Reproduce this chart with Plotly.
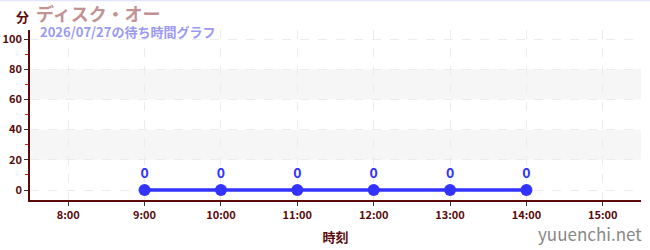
import plotly.graph_objects as go

hours = [9, 10, 11, 12, 13, 14]
waits = [0, 0, 0, 0, 0, 0]
tick_hours = [8, 9, 10, 11, 12, 13, 14, 15]
tick_labels = ["8:00", "9:00", "10:00", "11:00", "12:00", "13:00", "14:00", "15:00"]
y_ticks = [0, 20, 40, 60, 80, 100]
bands = [(20, 40), (60, 80)]
title = "ディスク・オー"
subtitle = "2026/07/27の待ち時間グラフ"

FONT = "Noto Sans CJK JP"
DARK = "#5a0a0a"

fig = go.Figure()
fig.add_trace(go.Scatter(
    x=hours, y=waits, mode="lines+markers+text",
    text=[str(v) for v in waits], textposition="top center",
    textfont=dict(family=FONT, size=14, color="#3333ff", weight="bold"),
    line=dict(color="#3333ff", width=3.5),
    marker=dict(color="#3333ff", size=12),
    cliponaxis=False, showlegend=False,
))

for lo, hi in bands:
    fig.add_shape(type="rect", xref="paper", x0=0, x1=1, yref="y", y0=lo, y1=hi,
                  fillcolor="#f6f6f6", line=dict(width=0), layer="below")

fig.add_shape(type="line", xref="paper", x0=-0.1, x1=1.1, yref="paper",
              y0=1 + 29.5 / 170, y1=1 + 29.5 / 170, line=dict(color="#e4e4ff", width=1.5))

fig.update_layout(
    width=650, height=250,
    margin=dict(l=30, r=9, t=30, b=50),
    paper_bgcolor="white", plot_bgcolor="white",
    font=dict(family=FONT, color=DARK),
    xaxis=dict(
        range=[7.5, 15.5], tickvals=tick_hours, ticktext=tick_labels,
        automargin=False,
        showgrid=True, gridcolor="#ececec", griddash="dash", gridwidth=1,
        showline=True, linecolor=DARK, linewidth=1.5,
        ticks="outside", ticklen=4, tickcolor="#333",
        tickfont=dict(family=FONT, size=11, color=DARK, weight="bold"),
        zeroline=False,
        title=dict(text="時刻", font=dict(family=FONT, size=13, color=DARK, weight="bold"), standoff=12),
    ),
    yaxis=dict(
        range=[-6.6, 106], tickvals=y_ticks,
        automargin=False,
        showgrid=True, gridcolor="#ececec", griddash="dash", gridwidth=1,
        showline=True, linecolor=DARK, linewidth=1.5,
        ticks="outside", ticklen=4, tickcolor="#333",
        tickfont=dict(family=FONT, size=11, color=DARK, weight="bold"),
        zeroline=False,
        minor=dict(tickvals=[10, 30, 50, 70, 90], ticks="outside", ticklen=3, tickcolor="#e02020", showgrid=False),
    ),
    annotations=[
        dict(text="分", xref="paper", yref="paper", x=-16 / 611, y=1 + 14 / 170,
             xanchor="left", yanchor="middle", showarrow=False,
             font=dict(family=FONT, size=13, color=DARK, weight="bold")),
        dict(text=title, xref="paper", yref="paper", x=4 / 611, y=1 + 17 / 170,
             xanchor="left", yanchor="middle", showarrow=False,
             font=dict(family=FONT, size=18, color="#c39393", weight="bold")),
        dict(text=subtitle, xref="paper", yref="paper", x=8 / 611, y=1 - 2 / 170,
             xanchor="left", yanchor="middle", showarrow=False,
             font=dict(family=FONT, size=13, color="#9a9af0", weight="bold")),
        dict(text="yuuenchi.net", xref="paper", yref="paper", x=1 + 3 / 611, y=-33 / 170,
             xanchor="right", yanchor="middle", showarrow=False,
             font=dict(family=FONT, size=17, color="#888888")),
    ],
)

fig.write_html("out.html")
